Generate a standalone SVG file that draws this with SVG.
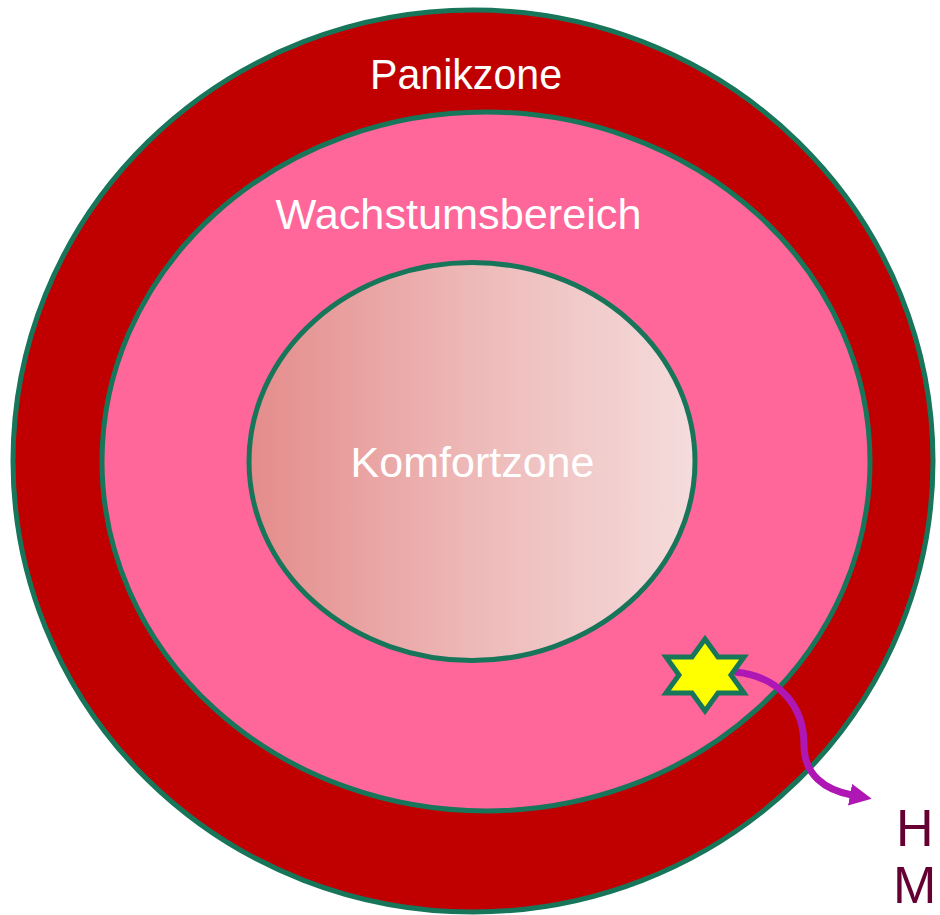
<svg xmlns="http://www.w3.org/2000/svg" width="940" height="915" viewBox="0 0 940 915">
<style>
.zone{stroke:#17755A;stroke-width:5}
.lbl{font-family:"Liberation Sans",Arial,sans-serif;font-size:42px;fill:#FFFFFF;text-anchor:middle}
.hm{font-family:"Liberation Sans",Arial,sans-serif;font-size:52px;fill:#660033}
</style>
<defs>
<linearGradient id="komfort" x1="0" y1="0" x2="1" y2="0">
<stop offset="0" stop-color="#E48C8B"/>
<stop offset="0.5" stop-color="#EDB9B8"/>
<stop offset="1" stop-color="#F5DCDC"/>
</linearGradient>
<marker id="arrow" viewBox="0 0 22 22" refX="2" refY="11" markerWidth="22" markerHeight="22" markerUnits="userSpaceOnUse" orient="auto">
<path d="M0,0 L22,11 L0,22 z" fill="#AE17B4"/>
</marker>
</defs>
<g id="panikzone">
<ellipse class="zone" cx="473" cy="461" rx="460" ry="451" fill="#C00000"/>
<text class="lbl" x="466" y="89" textLength="192" lengthAdjust="spacingAndGlyphs">Panikzone</text>
</g>
<g id="wachstumsbereich">
<ellipse class="zone" cx="486" cy="461.5" rx="384" ry="349.5" fill="#FF6699"/>
<text class="lbl" x="458.5" y="229" textLength="366" lengthAdjust="spacingAndGlyphs">Wachstumsbereich</text>
</g>
<g id="komfortzone">
<ellipse class="zone" cx="472" cy="461.5" rx="223" ry="199" fill="url(#komfort)"/>
<text class="lbl" x="472.5" y="477" textLength="244" lengthAdjust="spacingAndGlyphs">Komfortzone</text>
</g>
<g id="connectors">
<path d="M735,672 C778,676 804,705 804,745 C804,775 825,790 852,795" fill="none" stroke="#AE17B4" stroke-width="7" marker-end="url(#arrow)"/>
</g>
<g id="star">
<polygon points="705,639 718,657 744,657 731,675 744,693 718,693 705,711 692,693 666,693 679,675 666,657 692,657" fill="#FFFF00" stroke="#17755A" stroke-width="5" stroke-linejoin="miter"/>
</g>
<g id="hm">
<text class="hm" x="896" y="846">H</text>
<text class="hm" x="893" y="903">M</text>
</g>
</svg>
